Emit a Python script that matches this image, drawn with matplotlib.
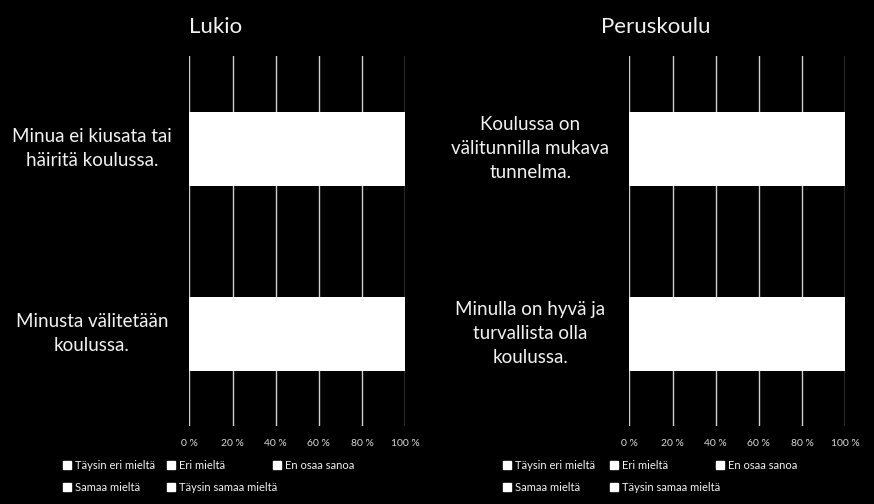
import matplotlib
matplotlib.use('Agg')
import matplotlib.pyplot as plt
from matplotlib.patches import Patch

plt.rcParams['font.family'] = ['Lato', 'DejaVu Sans']

# vastausvaihtoehdot
answers = ['Täysin eri mieltä', 'Eri mieltä', 'En osaa sanoa',
           'Samaa mieltä', 'Täysin samaa mieltä']

lukio_items = ['Minua ei kiusata tai\nhäiritä koulussa.',
               'Minusta välitetään\nkoulussa.']
lukio_vals = [[1, 2, 4, 20, 73],
              [3, 8, 25, 44, 20]]

perus_items = ['Koulussa on\nvälitunnilla mukava\ntunnelma.',
               'Minulla on hyvä ja\nturvallista olla\nkoulussa.']
perus_vals = [[2, 5, 15, 45, 33],
              [1, 3, 8, 35, 53]]

xticks = [0, 20, 40, 60, 80, 100]
xticklabels = ['0 %', '20 %', '40 %', '60 %', '80 %', '100 %']

W, H = 874, 504
fig = plt.figure(figsize=(W / 100, H / 100), dpi=100, facecolor='black')

grid_col = '#d0d0d0'
txt_col = '#f2f2f2'


def panel(left_px, items, vals, label_x, leg_x):
    ax = fig.add_axes([left_px / W, (H - 426) / H, 216 / W, 370 / H])
    ax.set_facecolor('black')
    ypos = list(range(len(items)))
    lefts = [0] * len(items)
    for k in range(len(answers)):
        seg = [v[k] for v in vals]
        ax.barh(ypos, seg, left=lefts, height=0.4, color='white',
                linewidth=0, antialiased=False, zorder=3)
        lefts = [a + b for a, b in zip(lefts, seg)]
    ax.set_xlim(0, 100)
    ax.set_ylim(1.5, -0.5)
    ax.set_xticks(xticks)
    ax.set_xticklabels(xticklabels, color='#d9d9d9', fontsize=7.5)
    ax.set_yticks([])
    ax.tick_params(axis='x', length=0, pad=9)
    ax.grid(axis='x', color=grid_col, linewidth=1, zorder=0)
    for s in ax.spines.values():
        s.set_visible(False)
    for y, lab in zip(ypos, items):
        ax.text(label_x, y, lab, transform=ax.get_yaxis_transform(),
                ha='center', va='center', color=txt_col, fontsize=13.5,
                linespacing=1.5)
    # legend: three columns of equal width, filled row by row
    cols = [[0, 3], [1, 4], [2]]
    for x, idx in zip(leg_x, cols):
        fig.legend([Patch(facecolor='white', edgecolor='white') for i in idx],
                   [answers[i] for i in idx],
                   loc='upper left', bbox_to_anchor=(x / W, (H - 460) / H),
                   frameon=False, fontsize=8, handlelength=0.75,
                   handleheight=0.75, handletextpad=0.35, labelspacing=0.95,
                   borderpad=0, borderaxespad=0, labelcolor=txt_col)
    return ax


panel(189.3, lukio_items, lukio_vals, -0.451, [63, 167, 273])
panel(629.3, perus_items, perus_vals, -0.458, [503, 610, 716])

fig.text(189 / W, (H - 33) / H, 'Lukio', color=txt_col, fontsize=16,
         va='baseline', ha='left')
fig.text(600.7 / W, (H - 33) / H, 'Peruskoulu', color=txt_col, fontsize=16,
         va='baseline', ha='left')

fig.savefig('out.png', dpi=100, facecolor='black')
